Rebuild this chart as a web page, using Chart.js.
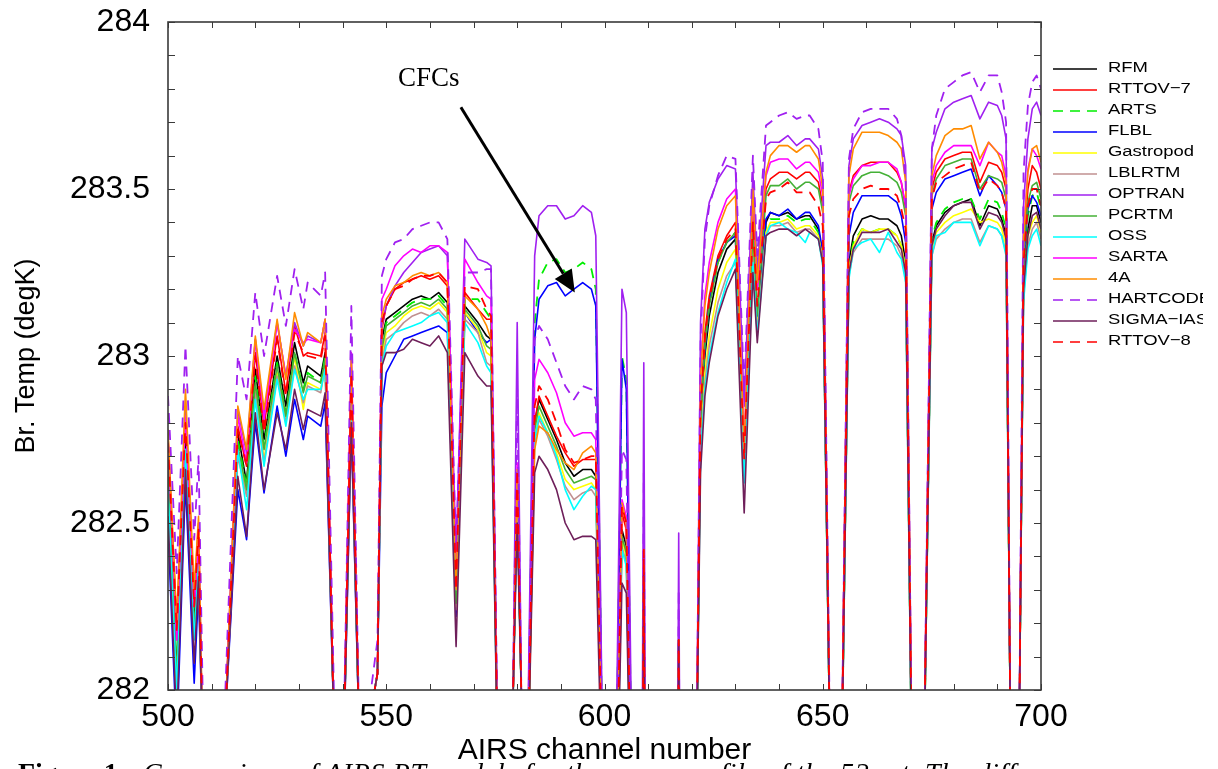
<!DOCTYPE html>
<html>
<head>
<meta charset="utf-8">
<title>AIRS RT model comparison</title>
<script src="https://cdn.jsdelivr.net/npm/chart.js@4.4.0/dist/chart.umd.min.js"></script>
<style>
    html, body { margin: 0; padding: 0; background: #fff; }
    #wrap { position: relative; width: 1218px; height: 769px; overflow: hidden; background: #fff; }
    #chart { position: absolute; left: 0; top: 0; }
    #legend { position: absolute; left: 1053px; top: 58px; width: 150px; overflow: hidden; }
    .row { position: relative; height: 21px; }
    .row svg { position: absolute; left: 0; top: 10px; }
    .row span { position: absolute; left: 55px; top: 0; line-height: 21px; white-space: nowrap;
                font: 15.5px 'Liberation Sans', Arial, sans-serif; color: #000;
                transform: scaleX(1.19); transform-origin: left center; }
    #cfc { position: absolute; left: 398px; top: 62px; line-height: 27px;
           font: 27px 'Liberation Serif', 'Times New Roman', serif; color: #000; }
    #caption { position: absolute; left: 18px; top: 757px; line-height: 28px; white-space: nowrap;
               font: 28px 'Liberation Serif', 'Times New Roman', serif; color: #000; }
    #caption b { display: inline-block; width: 125px; }
    #caption i { letter-spacing: 0.6px; }
</style>
</head>
<body>
<div id="wrap">
    <canvas id="chart" width="1218" height="769"></canvas>
    <div id="legend"></div>
    <div id="cfc">CFCs</div>
    <div id="caption"><b>Figure 1.</b><i>Comparison of AIRS RT models for the mean profile of the 52 set. The diff</i></div>
</div>
<script>
    'use strict';

    // AIRS channel numbers (x positions of the samples)
    var channels = [
        500, 502, 504, 506, 507, 508, 510,
        513, 516, 518, 520, 522, 525, 527, 529, 531, 532, 535, 536, 538,
        540, 542, 544,
        548, 549, 550, 552, 554, 556, 558, 560, 562, 564, 566, 568, 571, 573, 574, 576,
        579, 580, 581, 582, 584, 585, 587, 589, 591, 593, 595, 597, 598, 600,
        602, 604, 605, 607, 608, 609, 610, 616, 617, 618,
        621, 622, 623, 624, 626, 628, 630, 632, 634, 635,
        637, 638, 640, 642, 644, 646, 647, 649, 650, 652,
        654, 656, 657, 659, 661, 663, 665, 667, 668, 669, 671,
        673, 675, 676, 678, 680, 682, 684, 686, 688, 690, 691, 692, 693,
        695, 696, 697, 698, 699, 700
    ];

    // brightness temperatures (degK), one array per model
    var rfm = [
        282.68, 282.05, 282.75, 282.20, 282.42, 281.80, 280.80,
        281.88, 282.77, 282.62, 282.96, 282.75, 283.00, 282.85, 283.04, 282.92, 282.97, 282.94, 283.01, 281.90,
        281.67, 282.90, 281.75,
        282.05, 283.05, 283.11, 283.13, 283.15, 283.17, 283.18, 283.17, 283.19, 283.16, 282.25, 283.15, 283.10, 283.06, 283.05, 281.40,
        281.95, 282.60, 281.95, 281.50, 282.80, 282.87, 282.81, 282.75, 282.68, 282.64, 282.66, 282.66, 282.64, 281.40,
        281.10, 282.48, 282.43, 281.00, 279.70, 282.35, 279.70, 279.70, 282.15, 279.70,
        281.70, 282.78, 283.00, 283.12, 283.25, 283.32, 283.35, 282.66, 283.33, 283.09,
        283.40, 283.43, 283.42, 283.43, 283.41, 283.42, 283.42, 283.38, 283.30, 281.50,
        281.45, 283.28, 283.36, 283.41, 283.42, 283.41, 283.41, 283.39, 283.36, 283.28, 281.10,
        281.60, 283.34, 283.39, 283.43, 283.45, 283.46, 283.47, 283.39, 283.45, 283.44, 283.41, 283.36, 281.85,
        281.85, 283.22, 283.38, 283.45, 283.45, 283.40
    ];
    var rttov7 = [
        282.76, 282.20, 282.83, 282.28, 282.50, 281.80, 280.80,
        281.88, 282.79, 282.67, 283.01, 282.79, 283.06, 282.89, 283.09, 283.00, 283.01, 283.00, 283.07, 281.90,
        281.67, 282.96, 281.75,
        282.05, 283.08, 283.15, 283.20, 283.22, 283.23, 283.24, 283.23, 283.24, 283.21, 282.28, 283.19, 283.14, 283.11, 283.11, 281.40,
        281.95, 282.64, 281.95, 281.50, 282.80, 282.88, 282.82, 282.76, 282.71, 282.67, 282.69, 282.69, 282.69, 281.40,
        281.10, 282.53, 282.48, 281.00, 279.70, 282.40, 279.70, 279.70, 282.15, 279.70,
        281.70, 282.85, 283.07, 283.18, 283.30, 283.36, 283.40, 282.70, 283.43, 283.20,
        283.50, 283.53, 283.55, 283.55, 283.53, 283.55, 283.55, 283.52, 283.45, 281.50,
        281.45, 283.49, 283.54, 283.57, 283.58, 283.58, 283.58, 283.55, 283.52, 283.44, 281.10,
        281.60, 283.50, 283.55, 283.59, 283.60, 283.61, 283.61, 283.52, 283.58, 283.57, 283.55, 283.50, 281.85,
        281.85, 283.32, 283.50, 283.57, 283.55, 283.50
    ];
    var arts = [
        282.66, 282.05, 282.72, 282.18, 282.40, 281.80, 280.80,
        281.88, 282.75, 282.61, 282.94, 282.73, 282.98, 282.83, 283.01, 282.90, 282.95, 282.92, 283.00, 281.90,
        281.67, 282.88, 281.75,
        282.05, 283.03, 283.10, 283.12, 283.14, 283.16, 283.17, 283.17, 283.18, 283.15, 282.25, 283.17, 283.17, 283.13, 283.11, 281.40,
        281.95, 282.60, 281.95, 281.50, 283.10, 283.23, 283.28, 283.29, 283.25, 283.26, 283.28, 283.26, 283.20, 281.40,
        281.10, 283.00, 282.93, 281.00, 279.70, 282.35, 279.70, 279.70, 282.15, 279.70,
        281.70, 282.82, 283.03, 283.15, 283.28, 283.34, 283.37, 282.68, 283.37, 283.12,
        283.39, 283.41, 283.41, 283.42, 283.40, 283.41, 283.41, 283.37, 283.29, 281.50,
        281.45, 283.27, 283.34, 283.38, 283.37, 283.38, 283.38, 283.36, 283.33, 283.27, 281.10,
        281.60, 283.35, 283.40, 283.44, 283.46, 283.47, 283.47, 283.41, 283.47, 283.46, 283.43, 283.38, 281.85,
        281.85, 283.26, 283.42, 283.48, 283.49, 283.44
    ];
    var flbl = [
        282.48, 281.85, 282.62, 282.02, 282.30, 281.80, 280.80,
        281.88, 282.60, 282.45, 282.80, 282.59, 282.85, 282.70, 282.87, 282.75, 282.82, 282.79, 282.86, 281.90,
        281.67, 282.79, 281.75,
        282.05, 282.85, 282.95, 283.00, 283.05, 283.06, 283.07, 283.08, 283.09, 283.07, 282.22, 283.13, 283.07, 283.04, 283.05, 281.40,
        281.95, 282.60, 281.95, 281.50, 283.05, 283.17, 283.21, 283.22, 283.18, 283.20, 283.22, 283.20, 283.15, 281.40,
        281.10, 282.99, 282.90, 281.00, 279.70, 282.35, 279.70, 279.70, 282.15, 279.70,
        281.70, 282.82, 283.02, 283.16, 283.29, 283.34, 283.36, 282.65, 283.35, 283.10,
        283.41, 283.43, 283.42, 283.44, 283.41, 283.43, 283.43, 283.39, 283.31, 281.50,
        281.45, 283.36, 283.43, 283.48, 283.48, 283.48, 283.48, 283.46, 283.42, 283.34, 281.10,
        281.60, 283.44, 283.49, 283.53, 283.54, 283.55, 283.56, 283.48, 283.54, 283.51, 283.49, 283.44, 281.85,
        281.85, 283.28, 283.44, 283.48, 283.46, 283.42
    ];
    var gastropod = [
        282.63, 282.02, 282.70, 282.17, 282.38, 281.80, 280.80,
        281.88, 282.71, 282.59, 282.90, 282.69, 282.95, 282.81, 283.00, 282.84, 282.92, 282.90, 282.97, 281.90,
        281.67, 282.86, 281.75,
        282.05, 283.00, 283.07, 283.09, 283.12, 283.14, 283.15, 283.14, 283.16, 283.13, 282.25, 283.13, 283.08, 283.01, 283.00, 281.40,
        281.95, 282.57, 281.95, 281.50, 282.76, 282.83, 282.77, 282.71, 282.63, 282.60, 282.61, 282.62, 282.60, 281.40,
        281.10, 282.45, 282.40, 281.00, 279.70, 282.35, 279.70, 279.70, 282.15, 279.70,
        281.70, 282.74, 282.95, 283.06, 283.20, 283.28, 283.32, 282.64, 283.32, 283.08,
        283.37, 283.40, 283.40, 283.41, 283.38, 283.39, 283.39, 283.36, 283.29, 281.50,
        281.45, 283.26, 283.33, 283.38, 283.37, 283.38, 283.38, 283.36, 283.33, 283.26, 281.10,
        281.60, 283.32, 283.37, 283.40, 283.42, 283.43, 283.44, 283.40, 283.41, 283.40, 283.38, 283.33, 281.85,
        281.85, 283.20, 283.36, 283.40, 283.42, 283.37
    ];
    var lblrtm = [
        282.62, 282.00, 282.70, 282.16, 282.37, 281.80, 280.80,
        281.88, 282.70, 282.58, 282.89, 282.68, 282.94, 282.80, 282.97, 282.86, 282.91, 282.89, 282.97, 281.90,
        281.67, 282.85, 281.75,
        282.05, 282.98, 283.05, 283.07, 283.10, 283.12, 283.13, 283.12, 283.14, 283.11, 282.24, 283.11, 283.07, 282.98, 282.97, 281.40,
        281.95, 282.56, 281.95, 281.50, 282.74, 282.81, 282.76, 282.69, 282.61, 282.57, 282.59, 282.60, 282.58, 281.40,
        281.10, 282.43, 282.38, 281.00, 279.70, 282.35, 279.70, 279.70, 282.15, 279.70,
        281.70, 282.71, 282.92, 283.03, 283.16, 283.24, 283.28, 282.63, 283.30, 283.07,
        283.36, 283.39, 283.39, 283.40, 283.37, 283.38, 283.38, 283.35, 283.28, 281.50,
        281.45, 283.24, 283.31, 283.35, 283.35, 283.35, 283.35, 283.33, 283.30, 283.23, 281.10,
        281.60, 283.30, 283.35, 283.38, 283.40, 283.41, 283.41, 283.34, 283.39, 283.38, 283.36, 283.31, 281.85,
        281.85, 283.18, 283.33, 283.38, 283.40, 283.35
    ];
    var optran = [
        282.75, 282.15, 282.85, 282.25, 282.45, 281.80, 280.80,
        281.88, 282.84, 282.71, 283.05, 282.82, 283.10, 282.94, 283.10, 283.03, 283.06, 283.04, 283.11, 281.90,
        281.67, 283.00, 281.75,
        282.05, 283.09, 283.15, 283.21, 283.25, 283.28, 283.31, 283.32, 283.33, 283.30, 282.40, 283.35, 283.29, 283.28, 283.27, 281.40,
        281.95, 283.10, 281.95, 281.50, 283.30, 283.42, 283.45, 283.45, 283.41, 283.42, 283.45, 283.43, 283.36, 281.40,
        281.10, 283.20, 283.13, 281.00, 279.70, 282.98, 279.70, 279.70, 282.47, 279.70,
        281.70, 283.10, 283.38, 283.46, 283.53, 283.57, 283.56, 282.85, 283.55, 283.25,
        283.63, 283.64, 283.64, 283.66, 283.63, 283.65, 283.65, 283.62, 283.53, 281.50,
        281.45, 283.57, 283.65, 283.69, 283.70, 283.71, 283.70, 283.68, 283.66, 283.57, 281.10,
        281.60, 283.62, 283.67, 283.74, 283.76, 283.77, 283.78, 283.71, 283.76, 283.75, 283.72, 283.65, 281.85,
        281.85, 283.45, 283.65, 283.74, 283.76, 283.72
    ];
    var pcrtm = [
        282.65, 282.03, 282.72, 282.18, 282.40, 281.80, 280.80,
        281.88, 282.73, 282.60, 282.92, 282.72, 282.97, 282.82, 283.01, 282.89, 282.94, 282.92, 282.99, 281.90,
        281.67, 282.88, 281.75,
        282.05, 283.02, 283.09, 283.11, 283.13, 283.15, 283.16, 283.15, 283.17, 283.14, 282.26, 283.14, 283.09, 283.03, 283.02, 281.40,
        281.95, 282.58, 281.95, 281.50, 282.78, 282.85, 282.79, 282.73, 282.66, 282.62, 282.63, 282.64, 282.63, 281.40,
        281.10, 282.46, 282.41, 281.00, 279.70, 282.35, 279.70, 279.70, 282.15, 279.70,
        281.70, 282.82, 283.03, 283.15, 283.28, 283.34, 283.37, 282.67, 283.38, 283.12,
        283.48, 283.51, 283.51, 283.53, 283.50, 283.52, 283.52, 283.50, 283.43, 281.50,
        281.45, 283.46, 283.51, 283.54, 283.55, 283.55, 283.54, 283.52, 283.49, 283.42, 281.10,
        281.60, 283.48, 283.53, 283.57, 283.58, 283.59, 283.59, 283.50, 283.54, 283.53, 283.52, 283.47, 281.85,
        281.85, 283.30, 283.46, 283.51, 283.52, 283.47
    ];
    var oss = [
        282.60, 282.00, 282.72, 282.15, 282.38, 281.80, 280.80,
        281.88, 282.72, 282.54, 282.87, 282.67, 282.93, 282.79, 282.96, 282.87, 282.90, 282.90, 282.96, 281.90,
        281.67, 282.85, 281.75,
        282.05, 282.97, 283.03, 283.07, 283.08, 283.09, 283.10, 283.12, 283.13, 283.10, 282.30, 283.10, 283.04, 282.97, 282.95, 281.40,
        281.95, 282.56, 281.95, 281.50, 282.75, 282.82, 282.77, 282.70, 282.60, 282.54, 282.58, 282.61, 282.60, 281.40,
        281.10, 282.42, 282.37, 281.00, 279.70, 282.35, 279.70, 279.70, 282.15, 279.70,
        281.70, 282.70, 282.90, 283.00, 283.13, 283.22, 283.29, 282.62, 283.28, 283.06,
        283.36, 283.39, 283.40, 283.38, 283.37, 283.34, 283.37, 283.35, 283.27, 281.50,
        281.45, 283.23, 283.32, 283.34, 283.35, 283.31, 283.37, 283.31, 283.29, 283.22, 281.10,
        281.60, 283.30, 283.36, 283.37, 283.40, 283.40, 283.40, 283.33, 283.39, 283.38, 283.36, 283.30, 281.85,
        281.85, 283.16, 283.32, 283.36, 283.38, 283.33
    ];
    var sarta = [
        282.75, 282.15, 282.82, 282.25, 282.45, 281.80, 280.80,
        281.88, 282.82, 282.68, 283.05, 282.81, 283.10, 282.94, 283.08, 283.04, 283.05, 283.04, 283.11, 281.90,
        281.67, 283.01, 281.75,
        282.05, 283.17, 283.20, 283.27, 283.30, 283.32, 283.31, 283.33, 283.33, 283.31, 282.35, 283.29, 283.22, 283.18, 283.17, 281.40,
        281.95, 282.68, 281.95, 281.50, 282.93, 282.99, 282.95, 282.89, 282.80, 282.76, 282.77, 282.77, 282.75, 281.40,
        281.10, 282.57, 282.52, 281.00, 279.70, 282.40, 279.70, 279.70, 282.15, 279.70,
        281.70, 282.95, 283.18, 283.28, 283.40, 283.47, 283.50, 282.73, 283.48, 283.20,
        283.54, 283.58, 283.59, 283.59, 283.56, 283.58, 283.58, 283.55, 283.48, 281.50,
        281.45, 283.48, 283.53, 283.57, 283.57, 283.58, 283.58, 283.56, 283.52, 283.45, 281.10,
        281.60, 283.52, 283.57, 283.61, 283.63, 283.63, 283.63, 283.57, 283.64, 283.61, 283.60, 283.54, 281.85,
        281.85, 283.36, 283.56, 283.62, 283.60, 283.56
    ];
    var fourA = [
        282.78, 282.20, 282.90, 282.30, 282.52, 281.80, 280.80,
        281.88, 282.85, 282.72, 283.06, 282.84, 283.11, 282.93, 283.13, 283.03, 283.07, 283.04, 283.11, 281.90,
        281.67, 282.99, 281.75,
        282.05, 283.12, 283.17, 283.21, 283.22, 283.24, 283.25, 283.24, 283.25, 283.22, 282.30, 283.18, 283.14, 283.09, 283.05, 281.40,
        281.95, 282.66, 281.95, 281.50, 282.72, 282.79, 282.77, 282.72, 282.68, 282.66, 282.71, 282.73, 282.71, 281.40,
        281.10, 282.56, 282.50, 281.00, 279.70, 282.42, 279.70, 279.70, 282.15, 279.70,
        281.70, 282.93, 283.15, 283.25, 283.38, 283.45, 283.48, 282.72, 283.50, 283.22,
        283.55, 283.60, 283.63, 283.63, 283.61, 283.63, 283.63, 283.59, 283.50, 281.50,
        281.45, 283.54, 283.62, 283.67, 283.67, 283.67, 283.66, 283.64, 283.62, 283.52, 281.10,
        281.60, 283.54, 283.60, 283.66, 283.68, 283.68, 283.69, 283.59, 283.64, 283.61, 283.58, 283.52, 281.85,
        281.85, 283.35, 283.55, 283.62, 283.63, 283.58
    ];
    var hartcode = [
        282.88, 282.35, 283.03, 282.45, 282.70, 281.95, 280.80,
        281.95, 283.00, 282.87, 283.19, 283.00, 283.24, 283.09, 283.26, 283.14, 283.22, 283.18, 283.25, 282.00,
        281.67, 283.15, 281.75,
        282.15, 283.24, 283.29, 283.34, 283.35, 283.38, 283.39, 283.40, 283.40, 283.35, 282.42, 283.25, 283.25, 283.26, 283.26, 281.40,
        281.95, 282.90, 281.95, 281.50, 283.05, 283.09, 283.05, 282.98, 282.91, 282.87, 282.91, 282.90, 282.87, 281.40,
        281.10, 282.72, 282.69, 281.00, 279.70, 282.65, 279.70, 279.70, 282.30, 279.70,
        281.70, 283.05, 283.35, 283.45, 283.54, 283.60, 283.59, 282.90, 283.60, 283.30,
        283.69, 283.70, 283.72, 283.73, 283.71, 283.72, 283.72, 283.68, 283.58, 281.50,
        281.45, 283.59, 283.68, 283.73, 283.74, 283.74, 283.74, 283.71, 283.66, 283.52, 281.10,
        281.60, 283.62, 283.72, 283.80, 283.82, 283.84, 283.85, 283.79, 283.84, 283.84, 283.79, 283.70, 281.85,
        281.85, 283.55, 283.75, 283.82, 283.84, 283.80
    ];
    var sigmaIasi = [
        282.52, 281.90, 282.66, 282.08, 282.34, 281.80, 280.80,
        281.88, 282.64, 282.46, 282.83, 282.60, 282.83, 282.72, 282.90, 282.78, 282.84, 282.82, 282.89, 281.90,
        281.67, 282.80, 281.75,
        282.05, 282.97, 283.01, 283.01, 283.02, 283.05, 283.04, 283.03, 283.06, 283.01, 282.13, 283.01, 282.94, 282.91, 282.91, 281.40,
        281.95, 282.50, 281.95, 281.50, 282.65, 282.70, 282.66, 282.60, 282.50, 282.45, 282.46, 282.46, 282.45, 281.40,
        281.10, 282.32, 282.29, 281.00, 279.70, 282.35, 279.70, 279.70, 282.15, 279.70,
        281.70, 282.65, 282.88, 282.98, 283.12, 283.20, 283.26, 282.53, 283.25, 283.04,
        283.36, 283.37, 283.38, 283.38, 283.36, 283.38, 283.37, 283.35, 283.28, 281.50,
        281.45, 283.25, 283.32, 283.37, 283.37, 283.37, 283.38, 283.34, 283.32, 283.25, 281.10,
        281.60, 283.33, 283.38, 283.42, 283.45, 283.46, 283.46, 283.38, 283.43, 283.42, 283.40, 283.35, 281.85,
        281.85, 283.20, 283.36, 283.42, 283.43, 283.38
    ];
    var rttov8 = [
        282.74, 282.18, 282.80, 282.25, 282.48, 281.80, 280.80,
        281.88, 282.78, 282.67, 283.00, 282.77, 283.05, 282.88, 283.07, 283.01, 283.00, 282.99, 283.06, 281.90,
        281.67, 282.95, 281.75,
        282.05, 283.10, 283.15, 283.20, 283.21, 283.23, 283.24, 283.24, 283.25, 283.22, 282.30, 283.21, 283.20, 283.14, 283.12, 281.40,
        281.95, 282.66, 281.95, 281.50, 282.85, 282.91, 282.87, 282.80, 282.72, 282.68, 282.69, 282.70, 282.70, 281.40,
        281.10, 282.55, 282.50, 281.00, 279.70, 282.42, 279.70, 279.70, 282.15, 279.70,
        281.70, 282.84, 283.05, 283.17, 283.29, 283.35, 283.38, 282.69, 283.40, 283.15,
        283.47, 283.49, 283.50, 283.52, 283.49, 283.49, 283.49, 283.45, 283.39, 281.50,
        281.45, 283.42, 283.47, 283.50, 283.51, 283.50, 283.50, 283.48, 283.44, 283.38, 281.10,
        281.60, 283.47, 283.52, 283.54, 283.56, 283.57, 283.58, 283.49, 283.53, 283.51, 283.49, 283.44, 281.85,
        281.85, 283.28, 283.45, 283.50, 283.50, 283.45
    ];

    // the "CFCs" arrow, in data units (channel, degK)
    var arrowFrom = { x: 567.1, y: 283.745 };
    var arrowTo = { x: 593.2, y: 283.19 };

    var FONT = "'Liberation Sans', Arial, Helvetica, sans-serif";

    // legend order, colours and dash styles
    var series = [
        { label: 'RFM',        data: rfm,       color: '#000000', dash: [] },
        { label: 'RTTOV\u22127', data: rttov7,  color: '#ff0000', dash: [] },
        { label: 'ARTS',       data: arts,      color: '#00ee00', dash: [10, 7] },
        { label: 'FLBL',       data: flbl,      color: '#0000ff', dash: [] },
        { label: 'Gastropod',  data: gastropod, color: '#ffff00', dash: [] },
        { label: 'LBLRTM',     data: lblrtm,    color: '#c09090', dash: [] },
        { label: 'OPTRAN',     data: optran,    color: '#a020f0', dash: [] },
        { label: 'PCRTM',      data: pcrtm,     color: '#44b036', dash: [] },
        { label: 'OSS',        data: oss,       color: '#00ffff', dash: [] },
        { label: 'SARTA',      data: sarta,     color: '#ff00ff', dash: [] },
        { label: '4A',         data: fourA,     color: '#ff8c00', dash: [] },
        { label: 'HARTCODE',   data: hartcode,  color: '#a020f0', dash: [10, 7] },
        { label: 'SIGMA\u2212IASI', data: sigmaIasi, color: '#6e1f5a', dash: [] },
        { label: 'RTTOV\u22128', data: rttov8,  color: '#ff0000', dash: [10, 7] }
    ];

    /**
     * Box around the plot, inward tick marks and the CFCs arrow
     */
    var framePlugin = {
        id: 'frame',
        afterDatasetsDraw: function (chart) {
            var ctx = chart.ctx;
            var area = chart.chartArea;
            var xs = chart.scales.x;
            var ys = chart.scales.y;

            function seg(x1, y1, x2, y2) {
                ctx.beginPath();
                ctx.moveTo(x1, y1);
                ctx.lineTo(x2, y2);
                ctx.stroke();
            }

            ctx.save();
            ctx.strokeStyle = '#3a3a3a';
            ctx.lineWidth = 1;
            ys.ticks.forEach(function (t) {
                var py = Math.round(ys.getPixelForValue(t.value)) + 0.5;
                seg(area.left, py, area.left + 7, py);
                seg(area.right - 7, py, area.right, py);
            });
            xs.ticks.forEach(function (t) {
                var px = Math.round(xs.getPixelForValue(t.value)) + 0.5;
                seg(px, area.bottom, px, area.bottom - 6);
                seg(px, area.top, px, area.top + 6);
            });
            ctx.lineWidth = 1.6;
            ctx.strokeRect(area.left, area.top, area.right - area.left, area.bottom - area.top);

            // arrow
            var x1 = xs.getPixelForValue(arrowFrom.x), y1 = ys.getPixelForValue(arrowFrom.y);
            var x2 = xs.getPixelForValue(arrowTo.x), y2 = ys.getPixelForValue(arrowTo.y);
            var ang = Math.atan2(y2 - y1, x2 - x1);
            var headLen = 22, headHalf = 10;
            var bx = x2 - headLen * Math.cos(ang), by = y2 - headLen * Math.sin(ang);
            ctx.strokeStyle = '#000';
            ctx.lineWidth = 3;
            seg(x1, y1, bx, by);
            ctx.fillStyle = '#000';
            ctx.beginPath();
            ctx.moveTo(x2, y2);
            ctx.lineTo(bx + headHalf * Math.sin(ang), by - headHalf * Math.cos(ang));
            ctx.lineTo(bx - headHalf * Math.sin(ang), by + headHalf * Math.cos(ang));
            ctx.closePath();
            ctx.fill();
            ctx.restore();
        }
    };

    function buildDatasets() {
        return series.map(function (s, i) {
            return {
                label: s.label,
                data: channels.map(function (c, k) { return { x: c, y: s.data[k] }; }),
                borderColor: s.color,
                backgroundColor: s.color,
                borderDash: s.dash,
                borderWidth: s.dash.length ? 1.8 : 1.6,
                borderJoinStyle: 'round',
                pointRadius: 0,
                fill: false,
                tension: 0,
                // later models are drawn on top, as in the original plot
                order: series.length - i
            };
        });
    }

    function buildLegend() {
        var box = document.getElementById('legend');
        series.forEach(function (s) {
            var row = document.createElement('div');
            row.className = 'row';
            row.innerHTML = '<svg width="44" height="2"><line x1="0" y1="1" x2="44" y2="1" stroke="' + s.color +
                '" stroke-width="1.6"' + (s.dash.length ? ' stroke-dasharray="' + s.dash.join(',') + '"' : '') +
                '/></svg><span></span>';
            row.querySelector('span').textContent = s.label;
            box.appendChild(row);
        });
    }

    function isHalf(v) {
        return Math.abs(v * 2 - Math.round(v * 2)) < 1e-6;
    }

    new Chart(document.getElementById('chart').getContext('2d'), {
        type: 'line',
        data: { datasets: buildDatasets() },
        options: {
            responsive: false,
            animation: false,
            devicePixelRatio: 1,
            layout: { padding: { left: 0, top: 22, right: 177, bottom: 0 } },
            plugins: { legend: { display: false }, tooltip: { enabled: false } },
            scales: {
                x: {
                    type: 'linear',
                    min: 500,
                    max: 700,
                    grid: { display: false, drawTicks: false },
                    border: { display: false },
                    ticks: {
                        stepSize: 10,
                        autoSkip: false,
                        maxRotation: 0,
                        padding: 8,
                        color: '#000',
                        font: { family: FONT, size: 32 },
                        callback: function (v) { return v % 50 === 0 ? String(v) : ''; }
                    },
                    title: {
                        display: true,
                        text: 'AIRS channel number',
                        color: '#000',
                        font: { family: FONT, size: 30 },
                        padding: { top: 0, bottom: 0 }
                    },
                    afterFit: function (scale) {
                        scale.height = 79;
                        scale.paddingLeft = 0;
                        scale.paddingRight = 0;
                    }
                },
                y: {
                    type: 'linear',
                    min: 282,
                    max: 284,
                    grid: { display: false, drawTicks: false },
                    border: { display: false },
                    ticks: {
                        stepSize: 0.1,
                        autoSkip: false,
                        padding: 18,
                        color: '#000',
                        font: { family: FONT, size: 32 },
                        callback: function (v) { return isHalf(v) ? String(Math.round(v * 10) / 10) : ''; }
                    },
                    title: {
                        display: true,
                        text: 'Br. Temp (degK)',
                        color: '#000',
                        font: { family: FONT, size: 27 },
                        padding: { top: 10, bottom: 0 }
                    },
                    afterFit: function (scale) {
                        scale.width = 168;
                        scale.paddingTop = 0;
                        scale.paddingBottom = 0;
                    }
                }
            }
        },
        plugins: [framePlugin]
    });

    buildLegend();
</script>
</body>
</html>
